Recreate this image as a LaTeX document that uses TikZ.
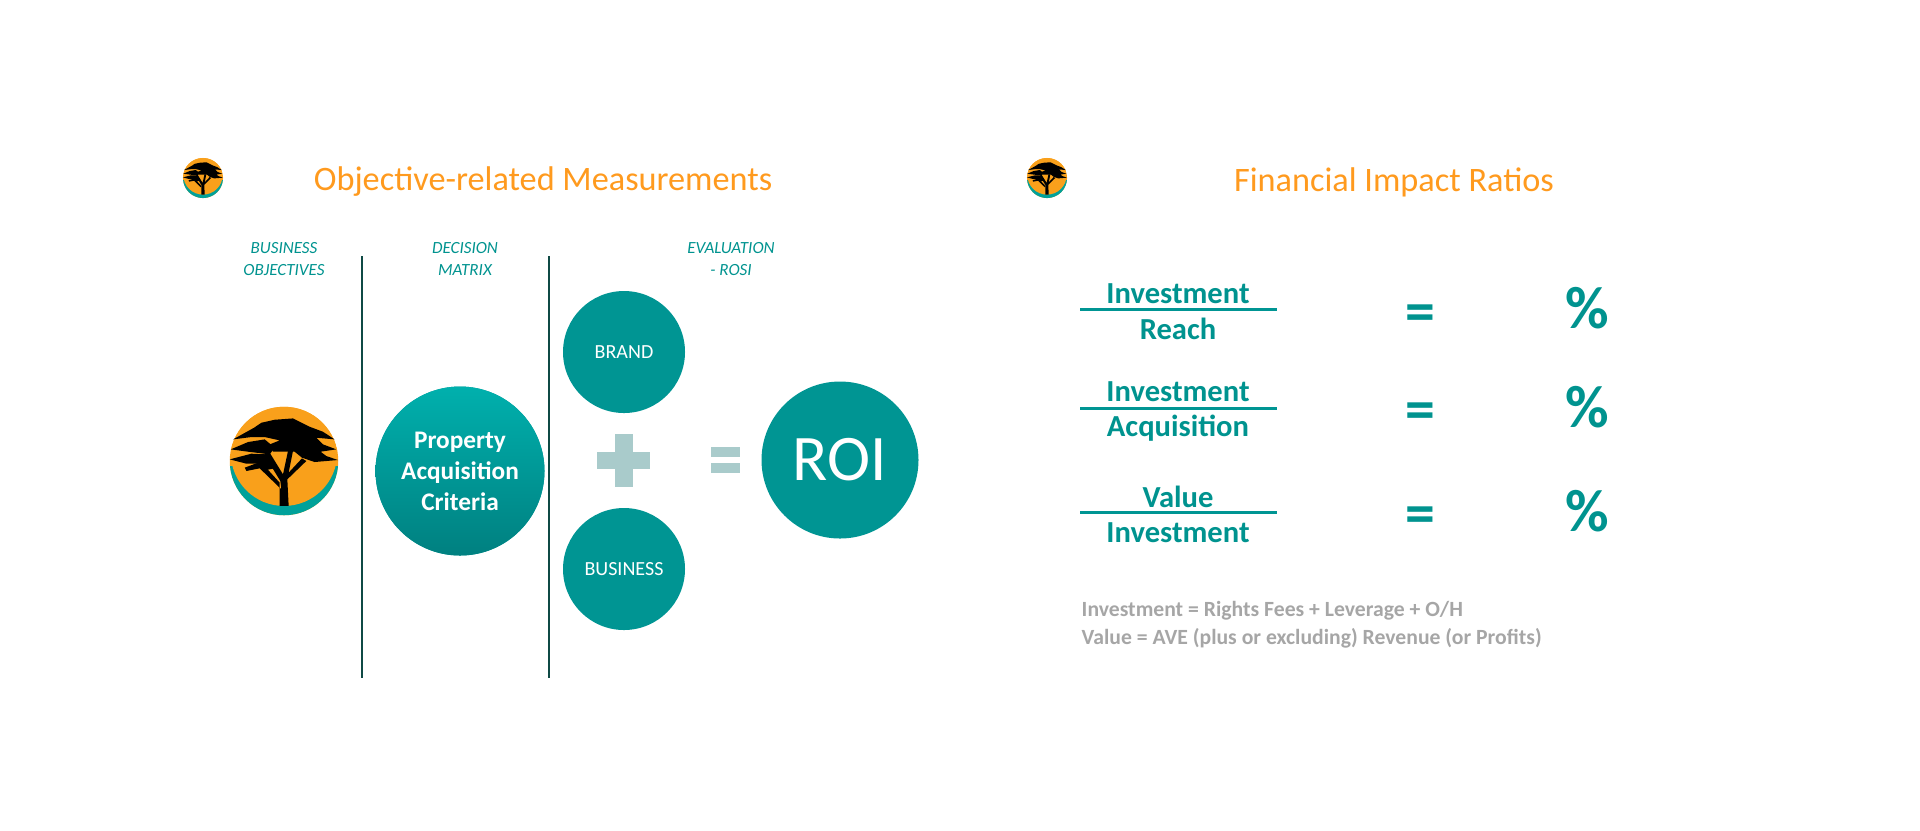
\documentclass[tikz,border=0pt]{standalone}
\usepackage{fontspec}
\setmainfont{Carlito}
\definecolor{fnbteal}{HTML}{009593}
\definecolor{fnbhead}{HTML}{00938F}
\definecolor{fnborange}{HTML}{FF9A1E}
\definecolor{logoorange}{HTML}{F9A01B}
\definecolor{logoteal}{HTML}{00A19A}
\definecolor{palesign}{HTML}{A9CBCB}
\definecolor{divcolor}{HTML}{0F4A45}
\definecolor{notegray}{HTML}{A6A6A6}
\definecolor{disctop}{HTML}{00B0AD}
\definecolor{discbot}{HTML}{008080}
\tikzset{
	titletext/.style={text=fnborange, font=\fontsize{9.75}{11}\selectfont},
	headtext/.style={text=fnbhead, font=\fontsize{4.85}{6.1}\selectfont\itshape, align=center},
	disc/.style={circle, fill=fnbteal, text=white, inner sep=0pt, minimum size=1.22cm, font=\fontsize{5.7}{6}\selectfont},
	fractext/.style={text=fnbhead, font=\fontsize{8.7}{10}\selectfont\bfseries},
	signtext/.style={text=fnbhead, font=\fontsize{17}{19}\selectfont\bfseries},
	notetext/.style={text=notegray, font=\fontsize{6.17}{8.05}\selectfont\bfseries, align=left},
	divider/.style={draw=divcolor, line width=0.6pt},
	fracbar/.style={draw=fnbteal, line width=0.85pt},
	fnblogo/.pic={
		\begin{scope}[x=0.01cm, y=-0.01cm, shift={(-208,-200)}]
			\begin{scope}
				\clip (208,200) circle (163);
				\fill[logoorange] (40,30) rectangle (380,370);
				\fill[logoteal] (40,215) rectangle (380,370);
				\fill[logoorange] (208,175) circle (160);
			\end{scope}
			% Canopy
			\fill[black] (55,135) -- (118,100) -- (140,85) -- (180,76) -- (235,72) -- (285,97) -- (325,112) -- (360,135) -- (305,130) -- (325,150) -- (365,165) -- (318,172) -- (335,185) -- (370,197) -- (300,203) -- (262,190) -- (240,172) -- (175,172) -- (165,150) -- (195,138) -- (150,128) -- (110,128) -- cycle;
			\fill[black] (48,165) -- (100,143) -- (150,135) -- (180,160) -- (165,180) -- (100,172) -- cycle;
			\fill[black] (45,195) -- (110,178) -- (155,180) -- (190,220) -- (150,228) -- (130,208) -- (95,208) -- cycle;
			% Trunk
			\fill[black] (195,335) -- (222,335) -- (218,255) -- (275,200) -- (262,192) -- (222,235) -- (235,170) -- (220,170) -- (205,240) -- (165,175) -- (148,180) -- (197,260) -- (200,285) -- (135,222) -- (95,230) -- (90,220) -- (130,205) -- (145,210) -- (195,265) -- cycle;
		\end{scope}
	}
}

\begin{document}
\begin{tikzpicture}
	\useasboundingbox (0,0) rectangle (19.2,-8.3);

	% Logos
	\pic[scale=0.123] at (2.03,-1.78) {fnblogo};
	\pic[scale=0.123] at (10.47,-1.78) {fnblogo};
	\pic[scale=0.333] at (2.84,-4.61) {fnblogo};

	% Titles
	\node (title1) [titletext] at (5.43,-1.82) {Objective-related Measurements};
	\node (title2) [titletext] at (13.94,-1.82) {Financial Impact Ratios};

	% Column heads
	\node (head1) [headtext] at (2.84,-2.59) {BUSINESS\\OBJECTIVES};
	\node (head2) [headtext] at (4.65,-2.59) {DECISION\\MATRIX};
	\node (head3) [headtext] at (7.31,-2.59) {EVALUATION\\- ROSI};

	% Dividers
	\coordinate (div1top) at (3.62,-2.56);
	\coordinate (div1bot) at (3.62,-6.78);
	\coordinate (div2top) at (5.49,-2.56);
	\coordinate (div2bot) at (5.49,-6.78);
	\draw[divider] (div1top) -- (div1bot);
	\draw[divider] (div2top) -- (div2bot);

	% Circles
	\node (criteria) [disc, minimum size=1.69cm, top color=disctop, bottom color=discbot, font=\fontsize{7.2}{8.85}\selectfont\bfseries, align=center] at (4.60,-4.71) {Property\\Acquisition\\Criteria};
	\node (brand) [disc] at (6.24,-3.52) {BRAND};
	\node (business) [disc] at (6.24,-5.69) {BUSINESS};
	\node (roi) [disc, minimum size=1.57cm, font=\fontsize{18.5}{20}\selectfont] at (8.40,-4.60) {ROI};

	% Plus and equals
	\fill[palesign] (5.97,-4.52) rectangle (6.50,-4.69);
	\fill[palesign] (6.15,-4.34) rectangle (6.33,-4.87);
	\fill[palesign] (7.11,-4.47) rectangle (7.40,-4.57);
	\fill[palesign] (7.11,-4.63) rectangle (7.40,-4.73);

	% Ratios
	\node (num1) [fractext] at (11.78,-2.94) {Investment};
	\node (den1) [fractext] at (11.78,-3.29) {Reach};
	\node (num2) [fractext] at (11.78,-3.92) {Investment};
	\node (den2) [fractext] at (11.78,-4.28) {Acquisition};
	\node (num3) [fractext] at (11.78,-4.97) {Value};
	\node (den3) [fractext] at (11.78,-5.33) {Investment};
	\coordinate (bar1a) at (10.80,-3.09);
	\coordinate (bar1b) at (12.77,-3.09);
	\coordinate (bar2a) at (10.80,-4.08);
	\coordinate (bar2b) at (12.77,-4.08);
	\coordinate (bar3a) at (10.80,-5.12);
	\coordinate (bar3b) at (12.77,-5.12);
	\draw[fracbar] (bar1a) -- (bar1b);
	\draw[fracbar] (bar2a) -- (bar2b);
	\draw[fracbar] (bar3a) -- (bar3b);
	\node (eq1) [signtext] at (14.20,-3.18) {=};
	\node (eq2) [signtext] at (14.20,-4.16) {=};
	\node (eq3) [signtext] at (14.20,-5.20) {=};
	\node (pct1) [signtext] at (15.87,-3.08) {\%};
	\node (pct2) [signtext] at (15.87,-4.07) {\%};
	\node (pct3) [signtext] at (15.87,-5.11) {\%};

	% Notes
	\node (note) [notetext, anchor=west, inner sep=0pt] at (10.81,-6.25) {Investment = Rights Fees + Leverage + O/H\\Value = AVE (plus or excluding) Revenue (or Profits)};
\end{tikzpicture}
\end{document}
